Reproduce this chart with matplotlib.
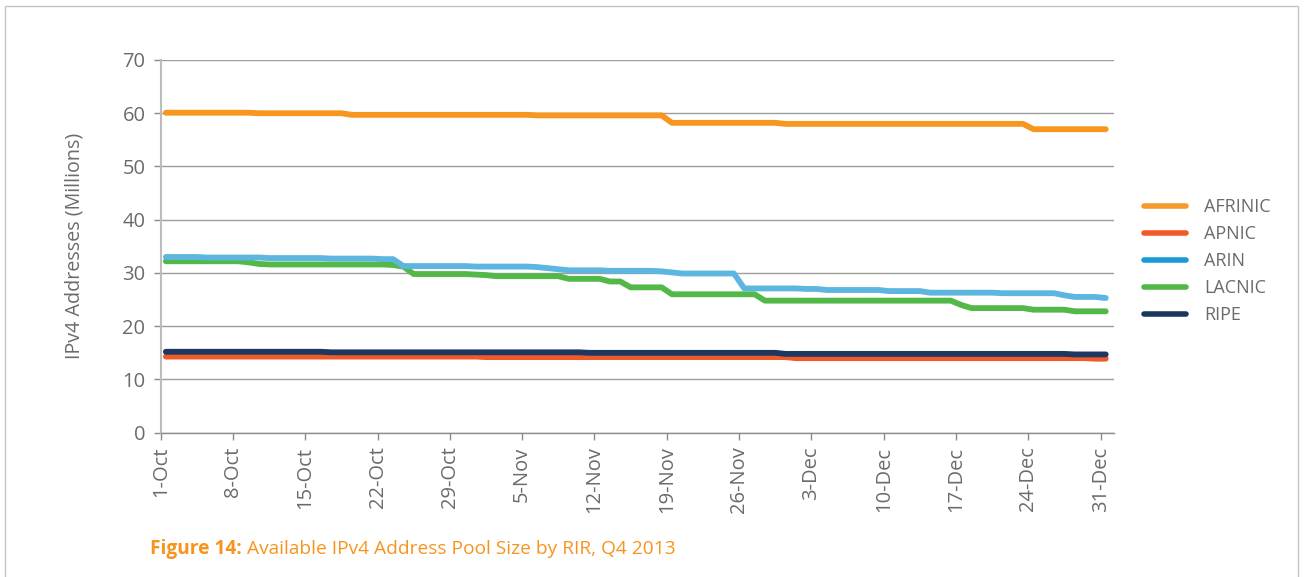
# -*- coding: utf-8 -*-
"""Available IPv4 address pool size by RIR, Q4 2013 (daily, millions)."""
import matplotlib
matplotlib.use("Agg")
import matplotlib.pyplot as plt
from matplotlib.lines import Line2D
from matplotlib.patches import Rectangle
import pandas as pd

plt.rcParams["font.family"] = ["Open Sans", "DejaVu Sans"]

# --------------------------- data -------------------------------------------
DATES = pd.date_range("2013-10-01", "2013-12-31", freq="D")
RIRS = ["AFRINIC", "APNIC", "ARIN", "LACNIC", "RIPE"]

afrinic = [
    60.1, 60.1, 60.1, 60.1, 60.1, 60.1, 60.1, 60.1, 60.1, 60.0,
    60.0, 60.0, 60.0, 60.0, 60.0, 60.0, 60.0, 60.0, 59.7, 59.7,
    59.7, 59.7, 59.7, 59.7, 59.7, 59.7, 59.7, 59.7, 59.7, 59.7,
    59.7, 59.7, 59.7, 59.7, 59.7, 59.7, 59.6, 59.6, 59.6, 59.6,
    59.6, 59.6, 59.6, 59.6, 59.6, 59.6, 59.6, 59.6, 59.6, 58.2,
    58.2, 58.2, 58.2, 58.2, 58.2, 58.2, 58.2, 58.2, 58.2, 58.2,
    58.0, 58.0, 58.0, 58.0, 58.0, 58.0, 58.0, 58.0, 58.0, 58.0,
    58.0, 58.0, 58.0, 58.0, 58.0, 58.0, 58.0, 58.0, 58.0, 58.0,
    58.0, 58.0, 58.0, 58.0, 57.0, 57.0, 57.0, 57.0, 57.0, 57.0,
    57.0, 57.0,
]
apnic = [
    14.3, 14.3, 14.3, 14.3, 14.3, 14.3, 14.3, 14.3, 14.3, 14.3,
    14.3, 14.3, 14.3, 14.3, 14.3, 14.3, 14.3, 14.3, 14.3, 14.3,
    14.3, 14.3, 14.3, 14.3, 14.3, 14.3, 14.3, 14.3, 14.3, 14.3,
    14.3, 14.2, 14.2, 14.2, 14.2, 14.2, 14.2, 14.2, 14.2, 14.2,
    14.2, 14.2, 14.2, 14.2, 14.2, 14.2, 14.2, 14.2, 14.2, 14.2,
    14.2, 14.2, 14.2, 14.2, 14.2, 14.2, 14.2, 14.2, 14.2, 14.2,
    14.2, 14.0, 14.0, 14.0, 14.0, 14.0, 14.0, 14.0, 14.0, 14.0,
    14.0, 14.0, 14.0, 14.0, 14.0, 14.0, 14.0, 14.0, 14.0, 14.0,
    14.0, 14.0, 14.0, 14.0, 14.0, 14.0, 14.0, 14.0, 14.0, 14.0,
    13.9, 13.9,
]
arin = [
    33.0, 33.0, 33.0, 33.0, 32.9, 32.9, 32.9, 32.9, 32.9, 32.9,
    32.8, 32.8, 32.8, 32.8, 32.8, 32.8, 32.7, 32.7, 32.7, 32.7,
    32.7, 32.6, 32.6, 31.3, 31.3, 31.3, 31.3, 31.3, 31.3, 31.3,
    31.2, 31.2, 31.2, 31.2, 31.2, 31.2, 31.1, 30.9, 30.7, 30.5,
    30.5, 30.5, 30.5, 30.4, 30.4, 30.4, 30.4, 30.4, 30.3, 30.1,
    29.9, 29.9, 29.9, 29.9, 29.9, 29.9, 27.1, 27.1, 27.1, 27.1,
    27.1, 27.1, 27.0, 27.0, 26.8, 26.8, 26.8, 26.8, 26.8, 26.8,
    26.6, 26.6, 26.6, 26.6, 26.3, 26.3, 26.3, 26.3, 26.3, 26.3,
    26.3, 26.2, 26.2, 26.2, 26.2, 26.2, 26.2, 25.8, 25.5, 25.5,
    25.5, 25.3,
]
lacnic = [
    32.2, 32.2, 32.2, 32.2, 32.2, 32.2, 32.2, 32.2, 32.0, 31.7,
    31.6, 31.6, 31.6, 31.6, 31.6, 31.6, 31.6, 31.6, 31.6, 31.6,
    31.6, 31.6, 31.5, 31.2, 29.8, 29.8, 29.8, 29.8, 29.8, 29.8,
    29.7, 29.6, 29.4, 29.4, 29.4, 29.4, 29.4, 29.4, 29.4, 28.9,
    28.9, 28.9, 28.9, 28.4, 28.4, 27.3, 27.3, 27.3, 27.3, 26.0,
    26.0, 26.0, 26.0, 26.0, 26.0, 26.0, 26.0, 26.0, 24.8, 24.8,
    24.8, 24.8, 24.8, 24.8, 24.8, 24.8, 24.8, 24.8, 24.8, 24.8,
    24.8, 24.8, 24.8, 24.8, 24.8, 24.8, 24.8, 24.0, 23.4, 23.4,
    23.4, 23.4, 23.4, 23.4, 23.1, 23.1, 23.1, 23.1, 22.8, 22.8,
    22.8, 22.8,
]
ripe = [
    15.2, 15.2, 15.2, 15.2, 15.2, 15.2, 15.2, 15.2, 15.2, 15.2,
    15.2, 15.2, 15.2, 15.2, 15.2, 15.2, 15.1, 15.1, 15.1, 15.1,
    15.1, 15.1, 15.1, 15.1, 15.1, 15.1, 15.1, 15.1, 15.1, 15.1,
    15.1, 15.1, 15.1, 15.1, 15.1, 15.1, 15.1, 15.1, 15.1, 15.1,
    15.1, 15.0, 15.0, 15.0, 15.0, 15.0, 15.0, 15.0, 15.0, 15.0,
    15.0, 15.0, 15.0, 15.0, 15.0, 15.0, 15.0, 15.0, 15.0, 15.0,
    14.8, 14.8, 14.8, 14.8, 14.8, 14.8, 14.8, 14.8, 14.8, 14.8,
    14.8, 14.8, 14.8, 14.8, 14.8, 14.8, 14.8, 14.8, 14.8, 14.8,
    14.8, 14.8, 14.8, 14.8, 14.8, 14.8, 14.8, 14.8, 14.7, 14.7,
    14.7, 14.7,
]

LINE_COLORS = {"AFRINIC": "#F7971F", "APNIC": "#F05A28", "ARIN": "#5DB6DF",
               "LACNIC": "#52B848", "RIPE": "#1D3860"}
LEGEND_COLORS = {"AFRINIC": "#F79A2A", "APNIC": "#F05A28", "ARIN": "#1A9AD6",
                 "LACNIC": "#4FB848", "RIPE": "#1B365D"}
TEXT_GRAY = "#6B6B6B"
CAPTION_ORANGE = "#F7941E"

# --------------------------- figure -----------------------------------------
W, H = 1304, 577
fig = plt.figure(figsize=(W / 100, H / 100), dpi=100)
ax = fig.add_axes([160.7 / W, 1 - 432.7 / H, (1114 - 160.7) / W, (432.7 - 60) / H])

x = list(range(len(DATES)))
values = {"AFRINIC": afrinic, "APNIC": apnic, "ARIN": arin, "LACNIC": lacnic, "RIPE": ripe}
# draw order: keep RIPE above APNIC, ARIN above LACNIC
for name in ["AFRINIC", "APNIC", "RIPE", "LACNIC", "ARIN"]:
    ax.plot(x, values[name], color=LINE_COLORS[name], lw=4.2,
            solid_capstyle="round", solid_joinstyle="round", zorder=3)

ax.set_ylim(0, 70)
ax.set_yticks(range(0, 71, 10))
ax.set_xlim(-0.5, 91.8)
tick_idx = list(range(0, len(DATES), 7))
ax.set_xticks([i - 0.5 for i in tick_idx])
ax.set_xticklabels([f"{DATES[i].day}-{DATES[i]:%b}" for i in tick_idx], rotation=90)

ax.grid(axis="y", color="#9E9E9E", lw=1.0, zorder=1)
ax.set_axisbelow(True)
for side in ["top", "right"]:
    ax.spines[side].set_visible(False)
ax.spines["left"].set_color("#BDBDBD")
ax.spines["left"].set_linewidth(1.5)
ax.spines["bottom"].set_color("#8C8C8C")
ax.spines["bottom"].set_linewidth(1.0)
ax.tick_params(axis="y", length=5, width=1, color="#8C8C8C", labelsize=14.5,
               labelcolor=TEXT_GRAY, pad=6)
ax.tick_params(axis="x", length=5, width=1, color="#8C8C8C", labelsize=14.5,
               labelcolor=TEXT_GRAY, pad=5)
ax.set_ylabel("IPv4 Addresses (Millions)", fontsize=14.2, color=TEXT_GRAY, labelpad=27)

handles = [Line2D([], [], color=LEGEND_COLORS[n], lw=4.0, solid_capstyle="round") for n in RIRS]
leg = fig.legend(handles, RIRS, loc="upper left", bbox_to_anchor=(1144 / W, 1 - 198 / H),
                 frameon=False, fontsize=13, handlelength=2.3, handletextpad=1.05,
                 labelspacing=0.5, borderpad=0, borderaxespad=0)
for t in leg.get_texts():
    t.set_color(TEXT_GRAY)

# caption: bold label followed by regular text
cap = fig.text(150 / W, 1 - 549 / H, "Figure 14:", fontsize=13.8, fontweight="bold",
               color=CAPTION_ORANGE, va="center", ha="left")
ax.annotate(" Available IPv4 Address Pool Size by RIR, Q4 2013", xy=(1, 0.5),
            xycoords=cap, va="center", ha="left", fontsize=13.8, color=CAPTION_ORANGE,
            annotation_clip=False)

# light frame round the whole figure
fig.add_artist(Rectangle((4.5 / W, -0.05), (1297.5 - 4.5) / W, 1.05 - 5.5 / H,
                         transform=fig.transFigure, fill=False, ec="#C4C4C4", lw=1.0))

fig.savefig("out.png", dpi=100)
plt.close(fig)
